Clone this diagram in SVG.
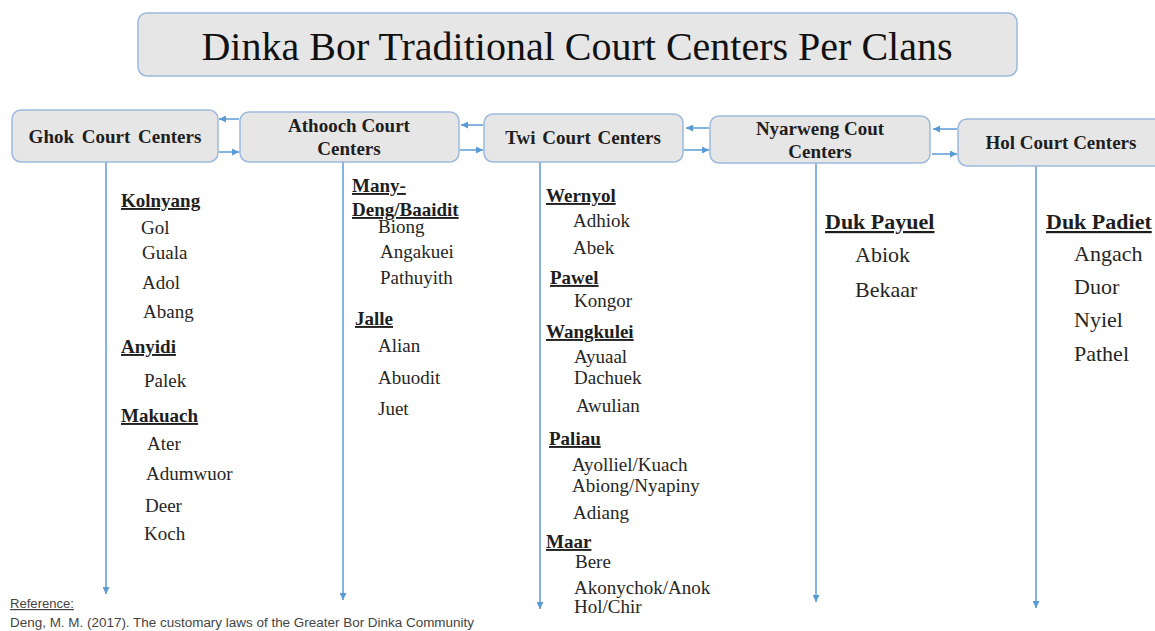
<svg xmlns="http://www.w3.org/2000/svg" width="1155" height="631" viewBox="0 0 1155 631">
<style>
.box{fill:#E7E6E6;stroke:#9DB9DC;stroke-width:1.5}
.sf{font-family:"Liberation Serif",Tinos,"Nimbus Roman","Times New Roman",Times,"DejaVu Serif",serif}
.bl{font-weight:bold;font-size:19px;fill:#1e1e1e;text-anchor:middle}
.t{font-size:19px;fill:#262626}
.h{font-size:19px;font-weight:bold;fill:#1e1e1e;text-decoration:underline}
.t2{font-size:22px;fill:#262626}
.h2{font-size:22px;font-weight:bold;fill:#1e1e1e;text-decoration:underline}
.c{stroke:#5B9BD5;stroke-width:1.5;fill:none}
.ref{font-family:"Liberation Sans",Arial,sans-serif;font-size:12px;fill:#444}
</style>
<defs>
<marker id="ah" markerWidth="7" markerHeight="7" refX="7" refY="3.5" orient="auto" markerUnits="userSpaceOnUse">
<path d="M0,0 L7,3.5 L0,7 z" fill="#5B9BD5"/>
</marker>
</defs>
<rect width="1155" height="631" fill="#ffffff"/>

<g id="title">
<rect class="box" x="138" y="13" width="879" height="63" rx="9"/>
<text class="sf" x="577" y="60" font-size="40" fill="#111" text-anchor="middle">Dinka Bor Traditional Court Centers Per Clans</text>
</g>

<g id="connectors">
<line class="c" x1="239" y1="119" x2="219" y2="119" marker-end="url(#ah)"/>
<line class="c" x1="219" y1="152" x2="239" y2="152" marker-end="url(#ah)"/>
<line class="c" x1="483" y1="125" x2="461" y2="125" marker-end="url(#ah)"/>
<line class="c" x1="460" y1="150" x2="483" y2="150" marker-end="url(#ah)"/>
<line class="c" x1="709" y1="128" x2="686" y2="128" marker-end="url(#ah)"/>
<line class="c" x1="684" y1="150" x2="709" y2="150" marker-end="url(#ah)"/>
<line class="c" x1="957" y1="129" x2="933" y2="129" marker-end="url(#ah)"/>
<line class="c" x1="932" y1="154" x2="957" y2="154" marker-end="url(#ah)"/>
<line class="c" x1="106" y1="162" x2="106" y2="594" marker-end="url(#ah)"/>
<line class="c" x1="343" y1="161" x2="343" y2="600" marker-end="url(#ah)"/>
<line class="c" x1="540" y1="162" x2="540" y2="609" marker-end="url(#ah)"/>
<line class="c" x1="816" y1="163" x2="816" y2="602" marker-end="url(#ah)"/>
<line class="c" x1="1036" y1="166" x2="1036" y2="608" marker-end="url(#ah)"/>
</g>

<g id="ghok" class="sf">
<rect class="box" x="12" y="110" width="206" height="52" rx="9"/>
<text class="bl" x="115" y="143" word-spacing="3">Ghok Court Centers</text>
<text class="h" x="121" y="207">Kolnyang</text>
<text class="t" x="141" y="234">Gol</text>
<text class="t" x="142" y="259">Guala</text>
<text class="t" x="142" y="289">Adol</text>
<text class="t" x="143" y="318">Abang</text>
<text class="h" x="121" y="353">Anyidi</text>
<text class="t" x="144" y="387">Palek</text>
<text class="h" x="121" y="422">Makuach</text>
<text class="t" x="147" y="450">Ater</text>
<text class="t" x="146" y="480">Adumwuor</text>
<text class="t" x="145" y="512">Deer</text>
<text class="t" x="144" y="540">Koch</text>
</g>

<g id="athooch" class="sf">
<rect class="box" x="240" y="112" width="219" height="50" rx="9"/>
<text class="bl" x="349" y="132">Athooch Court</text>
<text class="bl" x="349" y="155">Centers</text>
<text class="h" x="352" y="192">Many-</text>
<text class="h" x="352" y="216">Deng/Baaidit</text>
<text class="t" x="378" y="233">Biong</text>
<text class="t" x="380" y="258">Angakuei</text>
<text class="t" x="380" y="284">Pathuyith</text>
<text class="h" x="355" y="325">Jalle</text>
<text class="t" x="378" y="352">Alian</text>
<text class="t" x="378" y="384">Abuodit</text>
<text class="t" x="378" y="415">Juet</text>
</g>

<g id="twi" class="sf">
<rect class="box" x="484" y="114" width="199" height="48" rx="9"/>
<text class="bl" x="583" y="144" word-spacing="2">Twi Court Centers</text>
<text class="h" x="546" y="202">Wernyol</text>
<text class="t" x="573" y="227">Adhiok</text>
<text class="t" x="573" y="254">Abek</text>
<text class="h" x="550" y="284">Pawel</text>
<text class="t" x="574" y="307">Kongor</text>
<text class="h" x="546" y="338">Wangkulei</text>
<text class="t" x="574" y="363">Ayuaal</text>
<text class="t" x="574" y="384">Dachuek</text>
<text class="t" x="576" y="412">Awulian</text>
<text class="h" x="549" y="445">Paliau</text>
<text class="t" x="572" y="471">Ayolliel/Kuach</text>
<text class="t" x="572" y="492">Abiong/Nyapiny</text>
<text class="t" x="573" y="519">Adiang</text>
<text class="h" x="546" y="548">Maar</text>
<text class="t" x="575" y="568">Bere</text>
<text class="t" x="574" y="594">Akonychok/Anok</text>
<text class="t" x="574" y="613">Hol/Chir</text>
</g>

<g id="nyarweng" class="sf">
<rect class="box" x="710" y="116" width="220" height="47" rx="9"/>
<text class="bl" x="820" y="135">Nyarweng Cout</text>
<text class="bl" x="820" y="158">Centers</text>
<text class="h2" x="825" y="229">Duk Payuel</text>
<text class="t2" x="855" y="262">Abiok</text>
<text class="t2" x="855" y="297">Bekaar</text>
</g>

<g id="hol" class="sf">
<rect class="box" x="958" y="119" width="210" height="47" rx="9"/>
<text class="bl" x="1061" y="149">Hol Court Centers</text>
<text class="h2" x="1046" y="229">Duk Padiet</text>
<text class="t2" x="1074" y="261">Angach</text>
<text class="t2" x="1074" y="294">Duor</text>
<text class="t2" x="1074" y="327">Nyiel</text>
<text class="t2" x="1074" y="361">Pathel</text>
</g>

<g id="reference">
<text class="ref" x="10" y="608" text-decoration="underline" textLength="64" lengthAdjust="spacingAndGlyphs">Reference:</text>
<text class="ref" x="10" y="627" textLength="464" lengthAdjust="spacingAndGlyphs">Deng, M. M. (2017). The customary laws of the Greater Bor Dinka Community</text>
</g>
</svg>
